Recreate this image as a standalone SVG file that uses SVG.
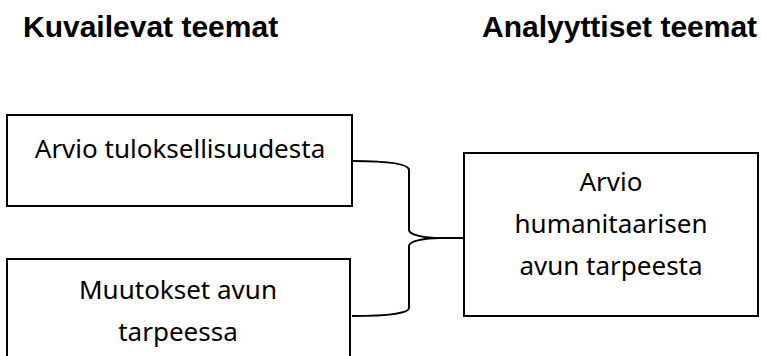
<svg xmlns="http://www.w3.org/2000/svg" width="761" height="356" viewBox="0 0 761 356">
<style>
.box{fill:#fff;stroke:#000;stroke-width:2}
.t{font-family:"Noto Sans","Liberation Sans",sans-serif;font-size:26px;fill:#000;text-anchor:middle}
.h{font-family:"Liberation Sans",Arial,sans-serif;font-size:30px;font-weight:bold;fill:#000}
.c{fill:none;stroke:#000;stroke-width:2}
</style>
<rect width="761" height="356" fill="#fff"/>
<text class="h" x="23" y="37">Kuvailevat teemat</text>
<text class="h" x="482" y="37">Analyyttiset teemat</text>
<g id="connectors">
<path class="c" d="M352,161 C390,161 409,164 409,170 L409,230 C409,235 425,238 440,238 L464,238 M440,238 C425,238 409,241 409,246 L409,308 C409,313 390,316 352,316"/>
</g>
<g id="node1">
<rect class="box" x="7" y="115" width="345" height="91"/>
<text class="t" x="180" y="158">Arvio tuloksellisuudesta</text>
</g>
<g id="node2">
<rect class="box" x="7" y="259" width="343" height="110"/>
<text class="t" x="178" y="299">Muutokset avun</text>
<text class="t" x="178" y="341">tarpeessa</text>
</g>
<g id="node3">
<rect class="box" x="464" y="153" width="294" height="163"/>
<text class="t" x="611" y="191">Arvio</text>
<text class="t" x="611" y="233">humanitaarisen</text>
<text class="t" x="611" y="275">avun tarpeesta</text>
</g>
</svg>
